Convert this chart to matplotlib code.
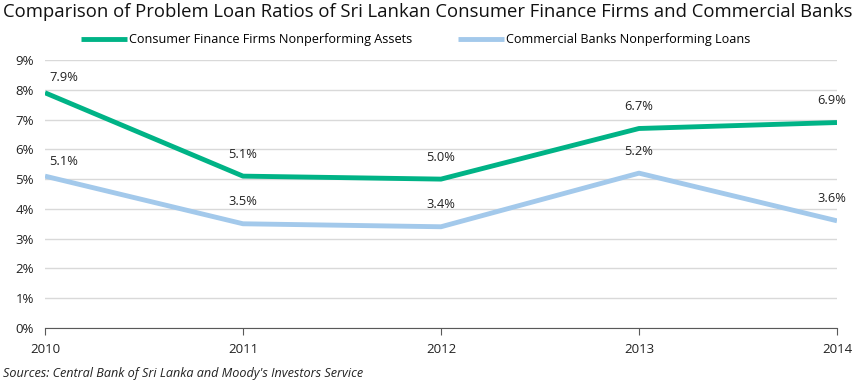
import matplotlib.pyplot as plt
import matplotlib.ticker as mticker

plt.rcParams['font.family'] = ['Open Sans', 'DejaVu Sans']

years = [2010, 2011, 2012, 2013, 2014]
consumer_finance = [7.9, 5.1, 5.0, 6.7, 6.9]
commercial_banks = [5.1, 3.5, 3.4, 5.2, 3.6]

green = '#00b386'
blue = '#a3c9eb'

fig = plt.figure(figsize=(8.54, 3.82), dpi=100)
ax = fig.add_axes([45 / 854, 1 - 328 / 382, (837 - 45) / 854, (328 - 60) / 382])

ax.plot(years, consumer_finance, color=green, lw=3.5, solid_capstyle='butt',
        label='Consumer Finance Firms Nonperforming Assets', zorder=3)
ax.plot(years, commercial_banks, color=blue, lw=3.5, solid_capstyle='butt',
        label='Commercial Banks Nonperforming Loans', zorder=3)

# label offsets in pixels: first point nudged right, last nudged left
for series in [consumer_finance, commercial_banks]:
    for i, (x, y) in enumerate(zip(years, series)):
        if i == 0:
            dx, dy = 19, 15
        elif i == len(years) - 1:
            dx, dy = -5, 22
        else:
            dx, dy = 0, 22
        ax.annotate('{0:.1f}%'.format(y), (x, y), xytext=(dx, dy),
                    textcoords='offset pixels', ha='center', va='center',
                    fontsize=9.3, color='#222222', annotation_clip=False)

ax.set_xlim(2010, 2014)
ax.set_ylim(0, 9)
ax.set_xticks(years)
ax.set_yticks(range(0, 10))
ax.yaxis.set_major_formatter(mticker.FuncFormatter(lambda v, p: '{0:.0f}%'.format(v)))
ax.grid(axis='y', color='#d9d9d9', lw=1)
ax.set_axisbelow(True)
for s in ['top', 'right', 'left']:
    ax.spines[s].set_visible(False)
ax.spines['bottom'].set_color('#595959')
ax.tick_params(axis='y', length=0, pad=8, labelsize=9.5, labelcolor='#222222')
ax.tick_params(axis='x', length=5, direction='out', color='#595959', pad=6,
               labelsize=9.5, labelcolor='#222222')

leg = fig.legend(loc='center', bbox_to_anchor=(0.487, 1 - 40 / 382), ncol=2,
                 frameon=False, fontsize=9.1, handlelength=3.6, handletextpad=0.2,
                 columnspacing=3.6)

fig.text(3 / 854, 1 - 12 / 382, 'Comparison of Problem Loan Ratios of Sri Lankan Consumer Finance Firms and Commercial Banks',
         ha='left', va='center', fontsize=13.3, color='#111111')
fig.text(3 / 854, 1 - 374 / 382, "Sources: Central Bank of Sri Lanka and Moody's Investors Service",
         ha='left', va='center', fontsize=9.1, style='italic', color='#222222')

fig.savefig('out.png', dpi=100)
